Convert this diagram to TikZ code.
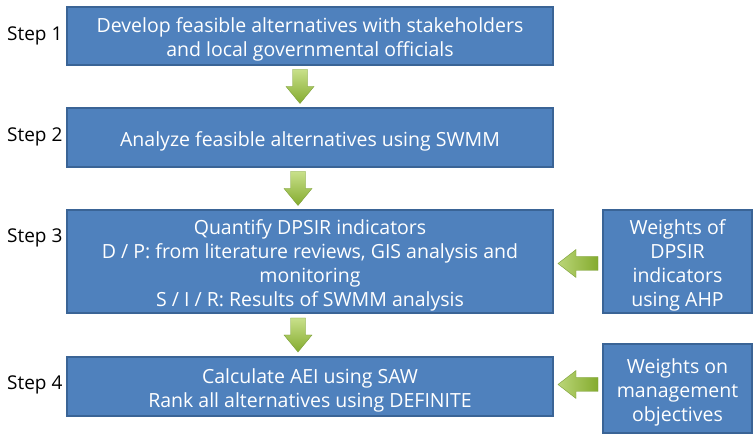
\documentclass[tikz,border=0pt]{standalone}
\usepackage{fontspec}
\setmainfont{Open Sans}
\usetikzlibrary{calc}
\definecolor{boxfill}{HTML}{4F81BD}
\definecolor{boxline}{HTML}{3A6496}
\definecolor{glight}{HTML}{C8E08A}
\definecolor{gdark}{HTML}{84AB2E}
\definecolor{gline}{HTML}{7C9F38}
\newcommand\boxlines[1]{\raisebox{-4pt}[\height][\depth]{\begin{tabular}{@{}c@{}}#1\end{tabular}}}
\tikzset{
  box/.style={draw=boxline, line width=1.2pt, fill=boxfill, text=white,
    inner sep=0pt, font=\fontsize{19.5}{24}\selectfont},
  steplabel/.style={anchor=west, inner sep=0pt, font=\fontsize{19}{22}\selectfont},
  garrow/.style={top color=glight, bottom color=gdark, draw=gline, line width=0.4pt},
  larrow/.style={left color=glight!80!gdark, right color=gdark, draw=gline, line width=0.4pt}
}
\begin{document}
\begin{tikzpicture}[x=1pt,y=1pt]
\useasboundingbox[fill=white] (0,0) rectangle (754,435);
\node[box, minimum width=486, minimum height=58] (b1) at (310,399)
  {\boxlines{Develop feasible alternatives with stakeholders\\and local governmental officials}};
\node[box, minimum width=486, minimum height=59] (b2) at (310,297.5)
  {\boxlines{Analyze feasible alternatives using SWMM}};
\node[box, minimum width=486, minimum height=103] (b3) at (310,173.5)
  {\boxlines{Quantify DPSIR indicators\\D / P: from literature reviews, GIS analysis and\\monitoring\\S / I / R: Results of SWMM analysis}};
\node[box, minimum width=486, minimum height=59] (b4) at (310,48.5)
  {\boxlines{Calculate AEI using SAW\\Rank all alternatives using DEFINITE}};
\node[box, minimum width=149, minimum height=103] (w1) at (677.5,173.5)
  {\boxlines{Weights of\\DPSIR\\indicators\\using AHP}};
\node[box, minimum width=149, minimum height=89] (w2) at (677.5,46.5)
  {\boxlines{Weights on\\management\\objectives}};
\node[steplabel] (s1) at (7,399) {Step 1};
\node[steplabel] (s2) at (7,298) {Step 2};
\node[steplabel] (s3) at (7,197) {Step 3};
\node[steplabel] (s4) at (7,50) {Step 4};
\coordinate (a1) at ($(b1.south)!0.5!(b2.north)+(-10,0)$);
\coordinate (a2) at ($(b2.south)!0.5!(b3.north)+(-12,0)$);
\coordinate (a3) at ($(b3.south)!0.5!(b4.north)+(-12,0)$);
\coordinate (l1) at ($(w1.west)!0.5!(b3.east)+(0,-2)$);
\coordinate (l2) at ($(w2.west|-b4.east)!0.5!(b4.east)+(0,2)$);
\foreach \c in {a1,a2,a3}{
  \path[garrow, shift={(\c)}] (-7.5,17) -- (7.5,17) -- (7.5,0) -- (14,0) -- (0,-17) -- (-14,0) -- (-7.5,0) -- cycle;
}
\foreach \c in {l1,l2}{
  \path[larrow, shift={(\c)}] (20,7) -- (20,-7) -- (-2,-7) -- (-2,-14) -- (-20,0) -- (-2,14) -- (-2,7) -- cycle;
}
\end{tikzpicture}
\end{document}
